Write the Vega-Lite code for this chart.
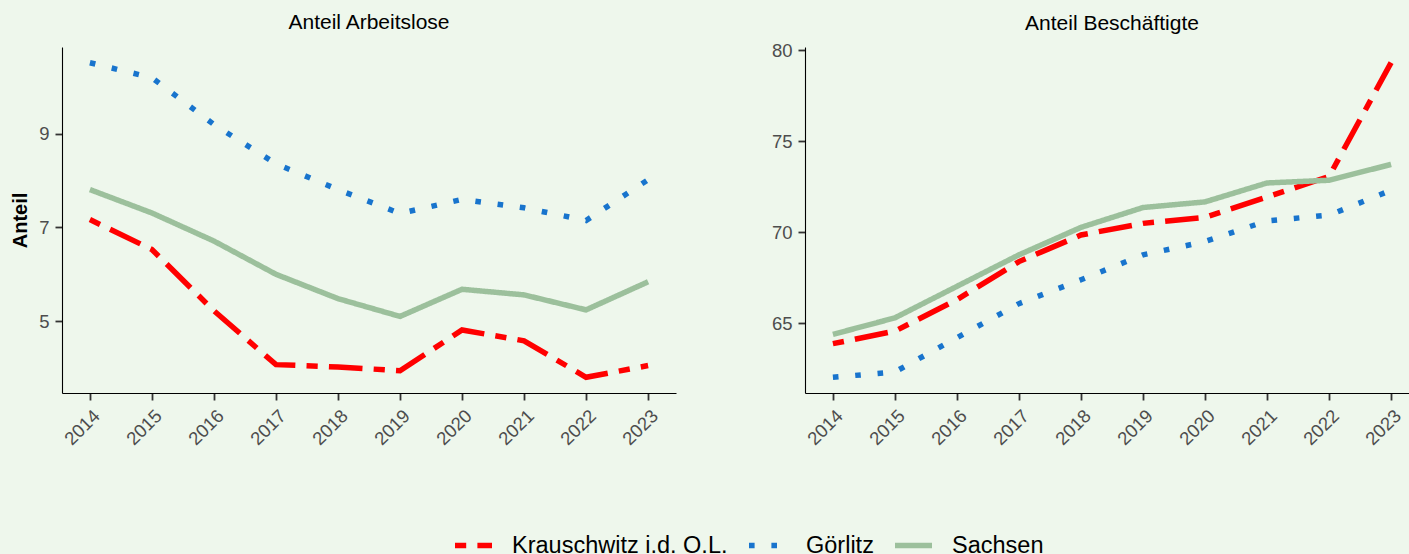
{
  "$schema": "https://vega.github.io/schema/vega-lite/v6.json",
  "background": "#EEF7EC",
  "padding": {"left": 10, "top": 12, "right": 0, "bottom": 0},
  "config": {
    "view": {"stroke": null},
    "font": "Liberation Sans",
    "axis": {"domainColor": "#000000", "domainWidth": 1.1, "tickColor": "#333333", "tickWidth": 1.8, "tickSize": 7, "labelColor": "#4D4D4D", "labelFontSize": 18.5, "labelFont": "Liberation Sans", "grid": false, "labelPadding": 6, "titleFont": "Liberation Sans", "titleFontSize": 20, "titleFontWeight": "bold", "titleColor": "#000000"},
    "title": {"fontSize": 21, "fontWeight": "normal", "color": "#000000", "offset": 14, "anchor": "middle", "font": "Liberation Sans"},
    "concat": {"spacing": 95},
    "legend": {"symbolType": "stroke", "symbolSize": 1369, "symbolStrokeWidth": 5.5, "labelFontSize": 23.5, "labelColor": "#000000", "labelFont": "Liberation Sans", "labelOffset": 17, "labelLimit": 500, "columnPadding": 10, "padding": 0, "direction": "horizontal"}
  },
  "datasets": {
    "d": [
      {"panel": "A", "region": "Krauschwitz i.d. O.L.", "year": 2014, "value": 7.17},
      {"panel": "A", "region": "Krauschwitz i.d. O.L.", "year": 2015, "value": 6.53},
      {"panel": "A", "region": "Krauschwitz i.d. O.L.", "year": 2016, "value": 5.22},
      {"panel": "A", "region": "Krauschwitz i.d. O.L.", "year": 2017, "value": 4.07},
      {"panel": "A", "region": "Krauschwitz i.d. O.L.", "year": 2018, "value": 4.02},
      {"panel": "A", "region": "Krauschwitz i.d. O.L.", "year": 2019, "value": 3.94},
      {"panel": "A", "region": "Krauschwitz i.d. O.L.", "year": 2020, "value": 4.81},
      {"panel": "A", "region": "Krauschwitz i.d. O.L.", "year": 2021, "value": 4.58},
      {"panel": "A", "region": "Krauschwitz i.d. O.L.", "year": 2022, "value": 3.80},
      {"panel": "A", "region": "Krauschwitz i.d. O.L.", "year": 2023, "value": 4.05},
      {"panel": "A", "region": "Görlitz", "year": 2014, "value": 10.52},
      {"panel": "A", "region": "Görlitz", "year": 2015, "value": 10.2},
      {"panel": "A", "region": "Görlitz", "year": 2016, "value": 9.2},
      {"panel": "A", "region": "Görlitz", "year": 2017, "value": 8.36},
      {"panel": "A", "region": "Görlitz", "year": 2018, "value": 7.81},
      {"panel": "A", "region": "Görlitz", "year": 2019, "value": 7.30},
      {"panel": "A", "region": "Görlitz", "year": 2020, "value": 7.6},
      {"panel": "A", "region": "Görlitz", "year": 2021, "value": 7.42},
      {"panel": "A", "region": "Görlitz", "year": 2022, "value": 7.15},
      {"panel": "A", "region": "Görlitz", "year": 2023, "value": 8.02},
      {"panel": "A", "region": "Sachsen", "year": 2014, "value": 7.81},
      {"panel": "A", "region": "Sachsen", "year": 2015, "value": 7.31},
      {"panel": "A", "region": "Sachsen", "year": 2016, "value": 6.71},
      {"panel": "A", "region": "Sachsen", "year": 2017, "value": 6.0},
      {"panel": "A", "region": "Sachsen", "year": 2018, "value": 5.48},
      {"panel": "A", "region": "Sachsen", "year": 2019, "value": 5.1},
      {"panel": "A", "region": "Sachsen", "year": 2020, "value": 5.68},
      {"panel": "A", "region": "Sachsen", "year": 2021, "value": 5.56},
      {"panel": "A", "region": "Sachsen", "year": 2022, "value": 5.24},
      {"panel": "A", "region": "Sachsen", "year": 2023, "value": 5.84},
      {"panel": "B", "region": "Krauschwitz i.d. O.L.", "year": 2014, "value": 63.87},
      {"panel": "B", "region": "Krauschwitz i.d. O.L.", "year": 2015, "value": 64.56},
      {"panel": "B", "region": "Krauschwitz i.d. O.L.", "year": 2016, "value": 66.29},
      {"panel": "B", "region": "Krauschwitz i.d. O.L.", "year": 2017, "value": 68.38},
      {"panel": "B", "region": "Krauschwitz i.d. O.L.", "year": 2018, "value": 69.84},
      {"panel": "B", "region": "Krauschwitz i.d. O.L.", "year": 2019, "value": 70.48},
      {"panel": "B", "region": "Krauschwitz i.d. O.L.", "year": 2020, "value": 70.81},
      {"panel": "B", "region": "Krauschwitz i.d. O.L.", "year": 2021, "value": 71.93},
      {"panel": "B", "region": "Krauschwitz i.d. O.L.", "year": 2022, "value": 73.06},
      {"panel": "B", "region": "Krauschwitz i.d. O.L.", "year": 2023, "value": 79.31},
      {"panel": "B", "region": "Görlitz", "year": 2014, "value": 62.02},
      {"panel": "B", "region": "Görlitz", "year": 2015, "value": 62.32},
      {"panel": "B", "region": "Görlitz", "year": 2016, "value": 64.2},
      {"panel": "B", "region": "Görlitz", "year": 2017, "value": 66.07},
      {"panel": "B", "region": "Görlitz", "year": 2018, "value": 67.38},
      {"panel": "B", "region": "Görlitz", "year": 2019, "value": 68.75},
      {"panel": "B", "region": "Görlitz", "year": 2020, "value": 69.48},
      {"panel": "B", "region": "Görlitz", "year": 2021, "value": 70.62},
      {"panel": "B", "region": "Görlitz", "year": 2022, "value": 70.93},
      {"panel": "B", "region": "Görlitz", "year": 2023, "value": 72.3},
      {"panel": "B", "region": "Sachsen", "year": 2014, "value": 64.38},
      {"panel": "B", "region": "Sachsen", "year": 2015, "value": 65.29},
      {"panel": "B", "region": "Sachsen", "year": 2016, "value": 67.02},
      {"panel": "B", "region": "Sachsen", "year": 2017, "value": 68.75},
      {"panel": "B", "region": "Sachsen", "year": 2018, "value": 70.26},
      {"panel": "B", "region": "Sachsen", "year": 2019, "value": 71.35},
      {"panel": "B", "region": "Sachsen", "year": 2020, "value": 71.66},
      {"panel": "B", "region": "Sachsen", "year": 2021, "value": 72.70},
      {"panel": "B", "region": "Sachsen", "year": 2022, "value": 72.85},
      {"panel": "B", "region": "Sachsen", "year": 2023, "value": 73.72}
    ]
  },
  "data": {"name": "d"},
  "resolve": {"scale": {"y": "independent", "x": "independent", "color": "shared", "strokeDash": "shared"}},
  "hconcat": [
    {
      "width": 614,
      "height": 346,
      "title": {"text": "Anteil Arbeitslose", "offset": 14},
      "transform": [{"filter": "datum.panel === 'A'"}],
      "mark": {"type": "line", "strokeWidth": 5.5},
      "encoding": {
        "x": {"field": "year", "type": "ordinal", "scale": {"type": "point", "padding": 0.45}, "axis": {"title": null, "labelAngle": -45}},
        "y": {"field": "value", "type": "quantitative", "scale": {"domain": [3.464, 10.856], "nice": false, "zero": false}, "axis": {"title": "Anteil", "values": [5, 7, 9], "titlePadding": 8}},
        "color": {"field": "region", "type": "nominal", "scale": {"domain": ["Krauschwitz i.d. O.L.", "Görlitz", "Sachsen"], "range": ["#FF0000", "#1874CD", "#9CC09C"]}, "legend": {"title": null, "orient": "none", "legendX": 390, "legendY": 477}},
        "strokeDash": {"field": "region", "type": "nominal", "scale": {"domain": ["Krauschwitz i.d. O.L.", "Görlitz", "Sachsen"], "range": [[11.2, 11.2, 33.6, 11.2], [5.6, 16.8], [1, 0]]}, "legend": {"title": null, "orient": "none", "legendX": 390, "legendY": 477}}
      }
    },
    {
      "width": 614,
      "height": 346,
      "title": {"text": "Anteil Beschäftigte", "offset": 7},
      "transform": [{"filter": "datum.panel === 'B'"}],
      "mark": {"type": "line", "strokeWidth": 5.5},
      "encoding": {
        "x": {"field": "year", "type": "ordinal", "scale": {"type": "point", "padding": 0.45}, "axis": {"title": null, "labelAngle": -45}},
        "y": {"field": "value", "type": "quantitative", "scale": {"domain": [61.16, 80.17], "nice": false, "zero": false}, "axis": {"title": null, "values": [65, 70, 75, 80]}},
        "color": {"field": "region", "type": "nominal", "scale": {"domain": ["Krauschwitz i.d. O.L.", "Görlitz", "Sachsen"], "range": ["#FF0000", "#1874CD", "#9CC09C"]}, "legend": {"title": null, "orient": "none", "legendX": 390, "legendY": 477}},
        "strokeDash": {"field": "region", "type": "nominal", "scale": {"domain": ["Krauschwitz i.d. O.L.", "Görlitz", "Sachsen"], "range": [[11.2, 11.2, 33.6, 11.2], [5.6, 16.8], [1, 0]]}, "legend": {"title": null, "orient": "none", "legendX": 390, "legendY": 477}}
      }
    }
  ]
}
